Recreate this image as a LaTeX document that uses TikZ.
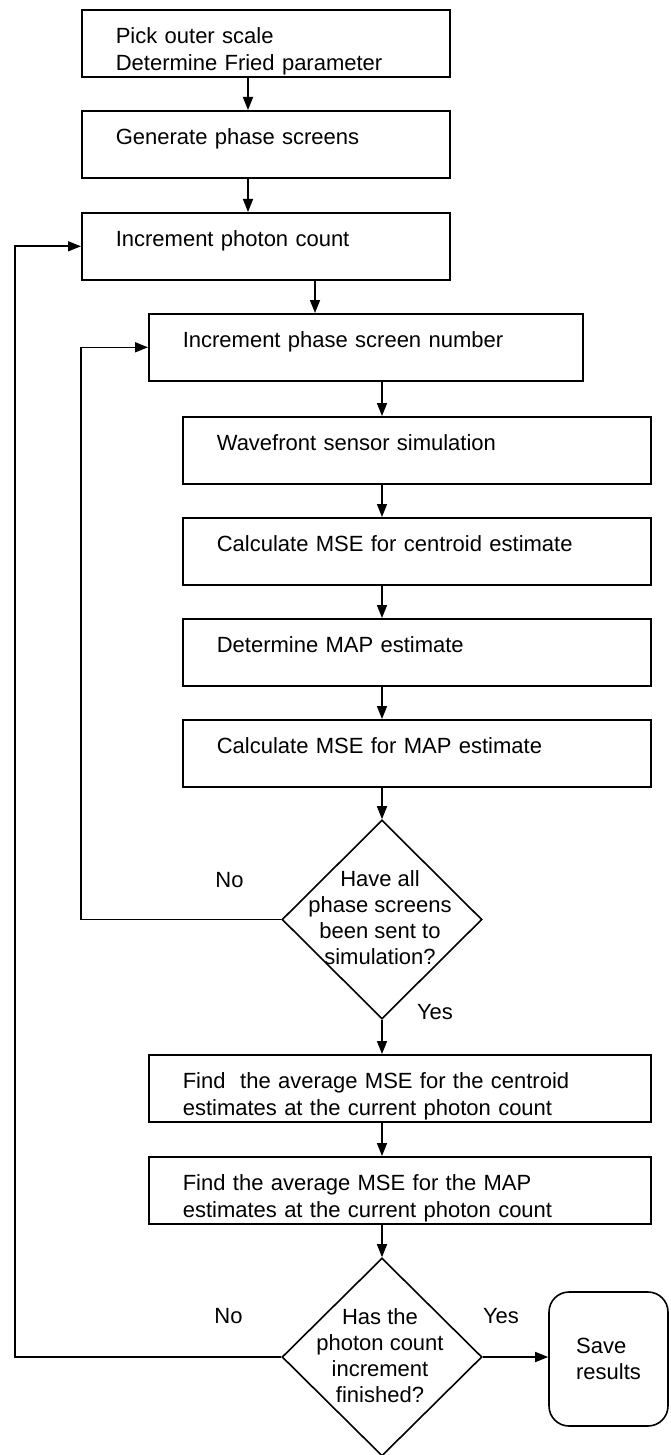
\documentclass[tikz,border=0pt]{standalone}
\usepackage{fontspec}
\setmainfont{Liberation Sans}
\usetikzlibrary{shapes.geometric,arrows.meta}
\begin{document}
\begin{tikzpicture}[x=0.5pt,y=-0.5pt,
  every node/.style={font=\fontsize{11}{13.2}\selectfont},
  box/.style={draw, line width=0.8pt, anchor=north west, align=left,
    inner xsep=17pt, inner ysep=0pt, text height=17pt, text depth=16.5pt},
  dia/.style={draw, line width=0.8pt, diamond, inner sep=0pt},
  dtext/.style={align=center, inner sep=0pt, font=\fontsize{11}{13}\selectfont},
  savebox/.style={draw, line width=0.8pt, rounded corners=10pt, align=left,
    minimum width=59.5pt, minimum height=67pt, inner sep=0pt},
  lbl/.style={inner sep=0pt},
  arr/.style={line width=0.8pt, -{Triangle[length=6.5pt,width=5pt]}},
  ln/.style={line width=0.8pt}]
\useasboundingbox (0,0) rectangle (670,1455);
% columns
\coordinate (a1) at (248,0);
\coordinate (a2) at (315,0);
\coordinate (a3) at (382,0);
\coordinate (l1) at (81,0);
\coordinate (l0) at (15,0);
% boxes
\node[box, text width=150pt] (b1) at (81,9) {Pick outer scale\\Determine Fried parameter};
\node[box, text width=150pt] (b2) at (81,110) {Generate phase screens};
\node[box, text width=150pt] (b3) at (81,212) {Increment photon count};
\node[box, text width=183pt] (b4) at (148,313) {Increment phase screen number};
\node[box, text width=200pt] (b5) at (182,416) {Wavefront sensor simulation};
\node[box, text width=200pt] (b6) at (182,517) {Calculate MSE for centroid estimate};
\node[box, text width=200pt] (b7) at (182,618) {Determine MAP estimate};
\node[box, text width=200pt] (b8) at (182,719) {Calculate MSE for MAP estimate};
\node[dia, minimum width=100pt, minimum height=99.5pt] (d1) at (382,919.5) {};
\node[dtext] (t1) at (380,918) {Have all\\phase screens\\been sent to\\simulation?};
\node[box, text width=217pt] (b9) at (148,1054) {Find~\ the average MSE for the centroid\\estimates at the current photon count};
\node[box, text width=217pt] (b10) at (148,1156) {Find the average MSE for the MAP\\estimates at the current photon count};
\node[dia, minimum width=100pt, minimum height=99pt] (d2) at (382,1357) {};
\node[dtext] (t2) at (380,1356) {Has the\\photon count\\increment\\finished?};
\node[savebox] (sv) at (608.5,1359) {Save\\results};
% labels
\node[lbl] (no1) at (229.5,880) {No};
\node[lbl] (yes1) at (435,1012) {Yes};
\node[lbl] (no2) at (228.5,1316) {No};
\node[lbl] (yes2) at (501,1316) {Yes};
% connectors
\draw[arr] (b1.south -| a1) -- (b2.north -| a1);
\draw[arr] (b2.south -| a1) -- (b3.north -| a1);
\draw[arr] (b3.south -| a2) -- (b4.north -| a2);
\draw[arr] (b4.south -| a3) -- (b5.north -| a3);
\draw[arr] (b5.south -| a3) -- (b6.north -| a3);
\draw[arr] (b6.south -| a3) -- (b7.north -| a3);
\draw[arr] (b7.south -| a3) -- (b8.north -| a3);
\draw[arr] (b8.south -| a3) -- (d1.north);
\draw[arr] (d1.south) -- (b9.north -| a3);
\draw[arr] (b9.south -| a3) -- (b10.north -| a3);
\draw[arr] (b10.south -| a3) -- (d2.north);
\draw[arr] (d2.east) -- (sv.west |- d2.east);
\draw[arr] (d1.west) -- (d1.west -| l1) -- (b4.west -| l1) -- (b4.west);
\draw[arr] (d2.west) -- (d2.west -| l0) -- (b3.west -| l0) -- (b3.west);
\end{tikzpicture}
\end{document}
